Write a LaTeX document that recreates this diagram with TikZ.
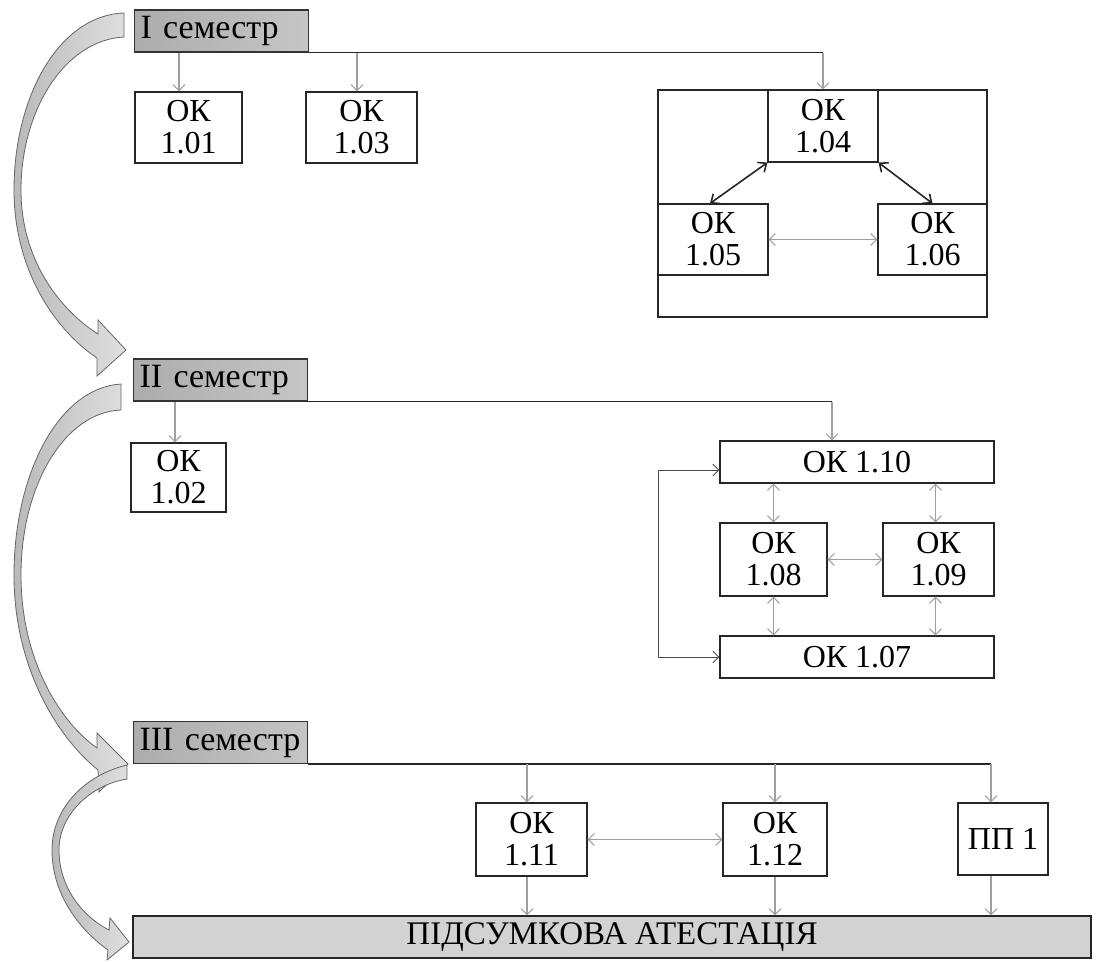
\documentclass[tikz,border=0pt]{standalone}
\usepackage{fontspec}
\setmainfont{Liberation Serif}
\usetikzlibrary{arrows.meta,calc}
\begin{document}
\begin{tikzpicture}[x=1pt,y=-1pt,
  box/.style={draw=black!85, line width=1.1pt, fill=white, align=center, inner sep=0pt, font=\fontsize{32}{32}\selectfont},
  sem/.style={draw=black!80, line width=1.1pt, left color=gray!65, right color=gray!45, text width=162pt, inner xsep=6pt, inner ysep=0pt, minimum height=42pt, align=left, font=\fontsize{34}{34}\selectfont, anchor=west},
  feed/.style={draw=black!85, line width=1.3pt},
  drop/.style={draw=gray!75, line width=1.1pt, -{Straight Barb[length=6pt,width=12pt]}},
  dbl/.style={draw=gray!75, line width=1.1pt, {Straight Barb[length=6pt,width=12pt]}-{Straight Barb[length=6pt,width=12pt]}},
  bold/.style={draw=black!85, line width=1.6pt, {Straight Barb[length=7pt,width=12pt]}-{Straight Barb[length=7pt,width=12pt]}},
  semarrow/.style={draw=black!60, line width=0.8pt, left color=gray!55, right color=gray!25}
]
\useasboundingbox (0,0) rectangle (1102,961);

% curved block arrows
\path[semarrow] (124,13) .. controls (60,15) and (14,95) .. (14,190) .. controls (14,270) and (55,330) .. (97,358) -- (97,376) -- (126,350) -- (98,320) -- (98,334) .. controls (60,310) and (21,260) .. (21,190) .. controls (21,110) and (65,40) .. (124,37) -- cycle;
\path[semarrow] (121,384) .. controls (58,388) and (14,475) .. (14,575) .. controls (14,665) and (55,735) .. (98,770) -- (99,792) -- (128,764) -- (97,733) -- (97,748) .. controls (60,722) and (21,660) .. (21,575) .. controls (21,485) and (65,412) .. (121,410) -- cycle;
\path[semarrow] (127,765) .. controls (85,775) and (52,808) .. (52,850) .. controls (52,895) and (80,930) .. (108,950) -- (107,960) -- (129,942) -- (110,918) -- (109,930) .. controls (80,915) and (59,885) .. (59,850) .. controls (59,815) and (90,785) .. (127,779) -- cycle;

% semester labels
\node[sem] (s1) at (134,31) {I семестр};
\node[sem] (s2) at (133,380) {II семестр};
\node[sem] (s3) at (133,742.5) {III семестр};

% semester I
\node[box, minimum width=107, minimum height=71] (o101) at (188.5,127.5) {ОК\\1.01};
\node[box, minimum width=111, minimum height=71] (o103) at (361.5,127.5) {ОК\\1.03};
\node[box, minimum width=329, minimum height=227] (grp) at (822.5,203.5) {};
\node[box, minimum width=110, minimum height=72] (o104) at (823,126) {ОК\\1.04};
\node[box, minimum width=110, minimum height=71] (o105) at (713,239.5) {ОК\\1.05};
\node[box, minimum width=109, minimum height=71] (o106) at (932.5,239.5) {ОК\\1.06};

\coordinate (c1) at (s1.south east -| o104.north);
\draw[feed] (s1.south east) -- (c1);
\draw[drop] (c1) -- (o104.north);
\draw[drop] ([xshift=-9.5pt]o101.north |- s1.south) -- ([xshift=-9.5pt]o101.north);
\draw[drop] ([xshift=-4.5pt]o103.north |- s1.south) -- ([xshift=-4.5pt]o103.north);
\draw[bold] (o104.south west) -- ([xshift=-3pt]o105.north);
\draw[bold] (o104.south east) -- (o106.north);
\draw[dbl] (o105.east) -- (o106.west);

% semester II
\node[box, minimum width=95, minimum height=69] (o102) at (178.5,477.5) {ОК\\1.02};
\node[box, minimum width=274, minimum height=42] (o110) at (857,462) {ОК 1.10};
\node[box, minimum width=107, minimum height=73] (o108) at (773.5,559.5) {ОК\\1.08};
\node[box, minimum width=111, minimum height=73] (o109) at (938.5,559.5) {ОК\\1.09};
\node[box, minimum width=274, minimum height=42] (o107) at (857,657) {ОК 1.07};

\coordinate (c2) at ([xshift=-25pt]o110.north |- s2.south east);
\draw[feed] (s2.south east) -- (c2);
\draw[drop] (c2) -- ([xshift=-25pt]o110.north);
\draw[drop] ([xshift=-3.5pt]o102.north |- s2.south) -- ([xshift=-3.5pt]o102.north);
\draw[dbl, draw=black!70, line width=0.9pt] ([yshift=-8pt]o110.west) -- ++(-61,0) |- (o107.west);
\draw[dbl] (o108.north |- o110.south) -- (o108.north);
\draw[dbl] ([xshift=-3pt]o109.north |- o110.south) -- ([xshift=-3pt]o109.north);
\draw[dbl] (o108.east) -- (o109.west);
\draw[dbl] (o108.south) -- (o108.south |- o107.north);
\draw[dbl] ([xshift=-3pt]o109.south) -- ([xshift=-3pt]o109.south |- o107.north);

% semester III
\node[box, minimum width=111, minimum height=73] (o111) at (531.5,839.5) {ОК\\1.11};
\node[box, minimum width=104, minimum height=73] (o112) at (775,839.5) {ОК\\1.12};
\node[box, minimum width=90, minimum height=72] (pp1) at (1003,839) {ПП 1};
\node[draw=black!85, line width=1.1pt, fill=gray!35, minimum width=958, minimum height=42, inner sep=0pt, font=\fontsize{33}{33}\selectfont] (bar) at (612,937) {ПІДСУМКОВА АТЕСТАЦІЯ};

\coordinate (c3) at ([xshift=-12pt]pp1.north |- s3.south east);
\draw[feed] (s3.south east) -- (c3);
\draw[drop] (c3) -- ([xshift=-12pt]pp1.north);
\draw[drop] ([xshift=-4.5pt]o111.north |- s3.south) -- ([xshift=-4.5pt]o111.north);
\draw[drop] (o112.north |- s3.south) -- (o112.north);
\draw[dbl] (o111.east) -- (o112.west);
\draw[drop] ([xshift=-4.5pt]o111.south) -- ([xshift=-4.5pt]o111.south |- bar.north);
\draw[drop] (o112.south) -- (o112.south |- bar.north);
\draw[drop] ([xshift=-12pt]pp1.south) -- ([xshift=-12pt]pp1.south |- bar.north);
\end{tikzpicture}
\end{document}
